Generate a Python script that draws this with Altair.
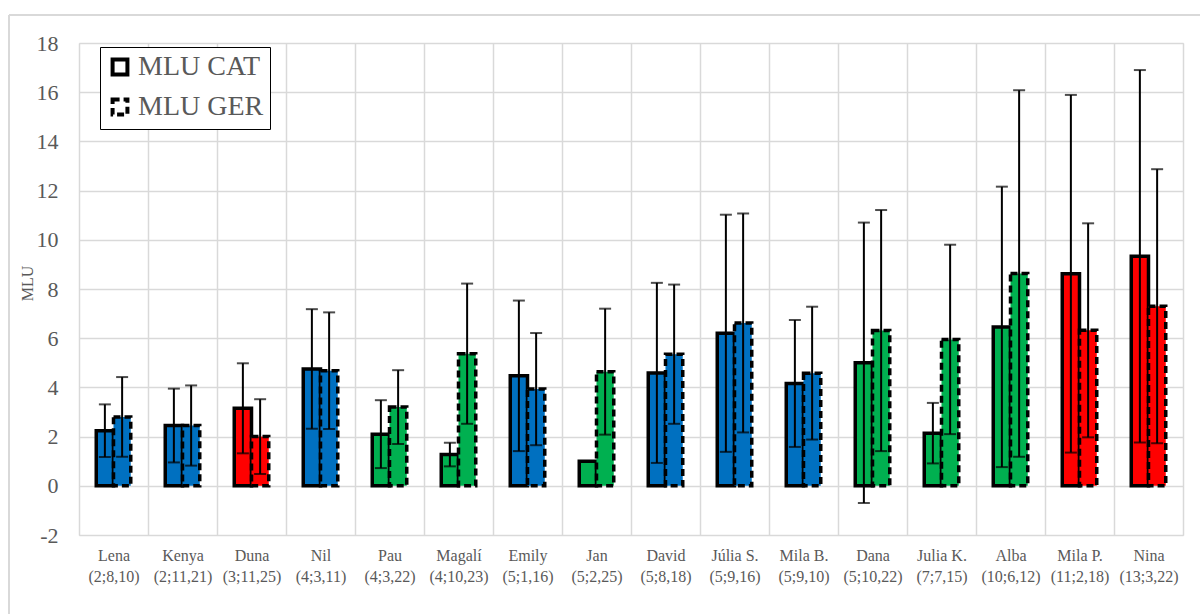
import altair as alt
import pandas as pd

children = ["Lena", "Kenya", "Duna", "Nil", "Pau", "Magalí", "Emily", "Jan",
            "David", "Júlia S.", "Mila B.", "Dana", "Julia K.", "Alba", "Mila P.", "Nina"]
ages = ["(2;8,10)", "(2;11,21)", "(3;11,25)", "(4;3,11)", "(4;3,22)", "(4;10,23)",
        "(5;1,16)", "(5;2,25)", "(5;8,18)", "(5;9,16)", "(5;9,10)", "(5;10,22)",
        "(7;7,15)", "(10;6,12)", "(11;2,18)", "(13;3,22)"]
bar_colors = ["#0070C0", "#0070C0", "#FF0000", "#0070C0", "#00B050", "#00B050",
              "#0070C0", "#00B050", "#0070C0", "#0070C0", "#0070C0", "#00B050",
              "#00B050", "#00B050", "#FF0000", "#FF0000"]
mlu_cat = [2.24, 2.45, 3.15, 4.75, 2.10, 1.27, 4.47, 1.00, 4.59, 6.20, 4.16, 5.00,
           2.14, 6.46, 8.62, 9.33]
sd_cat = [1.07, 1.50, 1.83, 2.43, 1.38, 0.48, 3.06, None, 3.66, 4.82, 2.58, 5.70,
          1.23, 5.70, 7.27, 7.57]
mlu_ger = [2.80, 2.45, 2.00, 4.68, 3.20, 5.37, 3.93, 4.64, 5.35, 6.62, 4.58, 6.31,
           5.95, 8.63, 6.32, 7.30]
sd_ger = [1.62, 1.63, 1.52, 2.37, 1.50, 2.85, 2.28, 2.56, 2.83, 4.45, 2.70, 4.90,
          3.85, 7.45, 4.35, 5.57]
series = ["MLU CAT", "MLU GER"]

rows = []
for i, name in enumerate(children):
    key = name + "|" + ages[i]
    for s, vals, sds in ((series[0], mlu_cat, sd_cat), (series[1], mlu_ger, sd_ger)):
        v = vals[i]
        sd = sds[i]
        rows.append({
            "child": key, "series": s, "mlu": v, "color": bar_colors[i],
            "lo": (v - sd) if sd is not None else None,
            "hi": (v + sd) if sd is not None else None,
        })
df = pd.DataFrame(rows)
order = [c + "|" + a for c, a in zip(children, ages)]

FONT = "Liberation Serif"
GRAY = "#595959"
GRID = "#D9D9D9"

x = alt.X("child:N", sort=order, title=None,
          scale=alt.Scale(paddingInner=0, paddingOuter=0),
          axis=alt.Axis(labelExpr="split(datum.label, '|')", labelAngle=0,
                        tickBand="extent", grid=True, gridColor=GRID, gridWidth=1.5,
                        ticks=False, domain=False, labelFont=FONT, labelFontSize=16,
                        labelColor=GRAY, labelLineHeight=21, labelPadding=12))
xo = alt.XOffset("series:N", sort=series,
                 scale=alt.Scale(paddingInner=0, paddingOuter=1))
yscale = alt.Scale(domain=[-2, 18], nice=False)

bars = alt.Chart(df).mark_bar(stroke="black", strokeWidth=3.5).encode(
    x=x, xOffset=xo,
    y=alt.Y("mlu:Q", scale=yscale, title="MLU",
            axis=alt.Axis(values=list(range(-2, 19, 2)), grid=True, gridColor=GRID,
                          gridWidth=1.5, ticks=False, domain=False, labelFont=FONT,
                          labelExpr="toString(datum.value)",
                          labelFontSize=22, labelColor=GRAY, labelPadding=21,
                          titleFont=FONT, titleFontSize=16, titleFontWeight="normal",
                          titleColor=GRAY, titleAngle=270, titleX=-52, titleY=240,
                          titleAlign="center", titleBaseline="middle")),
    color=alt.Color("color:N", scale=None, legend=None),
    strokeDash=alt.StrokeDash(
        "series:N", sort=series,
        scale=alt.Scale(domain=series, range=[[1, 0], [7, 4]]),
        legend=alt.Legend(title=None, orient="none", legendX=21, legendY=4,
                          symbolType="square", symbolSize=220, symbolStrokeWidth=4,
                          symbolFillColor="white", symbolStrokeColor="black",
                          labelFont=FONT, labelFontSize=28, labelColor=GRAY,
                          strokeColor="black", fillColor="white", padding=6,
                          rowPadding=8, labelOffset=4)),
)

err = alt.Chart(df).mark_rule(color="black", strokeWidth=2).encode(
    x=x, xOffset=xo, y=alt.Y("lo:Q", scale=yscale), y2="hi:Q")
cap_hi = alt.Chart(df).mark_tick(color="black", thickness=2, size=12).encode(
    x=x, xOffset=xo, y=alt.Y("hi:Q", scale=yscale))
cap_lo = alt.Chart(df).mark_tick(color="black", thickness=2, size=12).encode(
    x=x, xOffset=xo, y=alt.Y("lo:Q", scale=yscale))

border_df = pd.DataFrame({"k": [0]})
frame_left = alt.Chart(border_df).mark_rule(color=GRID, strokeWidth=2).encode(
    x=alt.value(-70), y=alt.value(-28), y2=alt.value(600))
frame_top = alt.Chart(border_df).mark_rule(color=GRID, strokeWidth=2).encode(
    x=alt.value(-70), x2=alt.value(1200), y=alt.value(-28))

chart = alt.layer(frame_left, frame_top, bars, err, cap_hi, cap_lo).properties(
    width=1104, height=492,
    autosize=alt.AutoSizeParams(type="none"),
    padding={"left": 79, "top": 43, "right": 17, "bottom": 79},
).configure_view(stroke=None).configure(background="white")

chart.save("out.html", embed_options={"renderer": "svg", "actions": False})
